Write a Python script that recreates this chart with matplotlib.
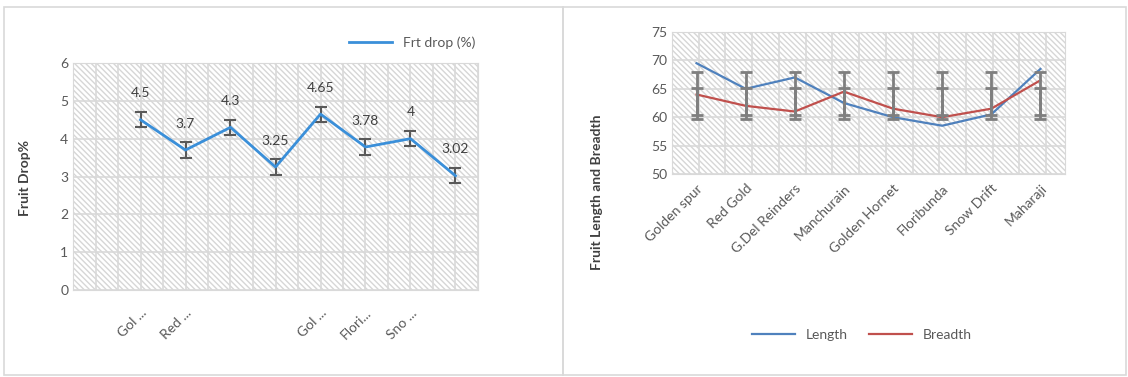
import numpy as np
import matplotlib
matplotlib.use("Agg")
import matplotlib.pyplot as plt
from matplotlib.patches import Rectangle
from matplotlib.lines import Line2D

plt.rcParams["font.family"] = ["Lato", "DejaVu Sans"]
plt.rcParams["hatch.color"] = "#d6d6d6"
plt.rcParams["hatch.linewidth"] = 1.0

# left chart: fruit drop (first category slot is empty in the original)
drop_labels = ["", "Gol ...", "Red ...", "", "", "Gol ...", "Flori...", "Sno ...", ""]
drop_values = [np.nan, 4.5, 3.7, 4.3, 3.25, 4.65, 3.78, 4.0, 3.02]
drop_err = [np.nan, 0.2, 0.2, 0.2, 0.2, 0.2, 0.2, 0.2, 0.2]
drop_text = ["", "4.5", "3.7", "4.3", "3.25", "4.65", "3.78", "4", "3.02"]

# right chart: fruit length and breadth
cultivars = ["Golden spur", "Red Gold", "G.Del Reinders", "Manchurain",
             "Golden Hornet", "Floribunda", "Snow Drift", "Maharaji"]
length = [69.5, 65.0, 67.0, 62.5, 60.0, 58.5, 60.5, 68.5]
breadth = [64.0, 62.0, 61.0, 64.5, 61.5, 60.0, 61.5, 66.5]
bar_a_low = [60.4] * 8
bar_a_high = [68.0] * 8
bar_b_low = [59.7] * 8
bar_b_high = [65.1] * 8

TXT = "#595959"
GRID = "#d9d9d9"

fig = plt.figure(figsize=(11.28, 3.77), dpi=100)

# chart frames
for x0, w in [(4 / 1128, 559 / 1128), (563 / 1128, 563 / 1128)]:
    fig.patches.append(Rectangle((x0, 2 / 377), w, 368 / 377, transform=fig.transFigure,
                                 fill=False, edgecolor=GRID, linewidth=1.2))


def style_axes(ax):
    ax.patch.set_facecolor("white")
    ax.add_patch(Rectangle((0, 0), 1, 1, transform=ax.transAxes, facecolor="none",
                           edgecolor="#d6d6d6", linewidth=0, hatch="\\" * 6, zorder=0))
    for s in ax.spines.values():
        s.set_color(GRID)
    ax.tick_params(length=0, colors=TXT, labelsize=10)
    ax.grid(axis="y", color=GRID, linewidth=1.2, zorder=0.5)
    ax.set_axisbelow(True)


# ---- left
ax1 = fig.add_axes([73 / 1128, 1 - 290 / 377, 405 / 1128, 227 / 377])
style_axes(ax1)
x1 = np.arange(len(drop_labels))
ax1.set_xlim(-0.5, len(drop_labels) - 0.5)
ax1.set_ylim(0, 6)
ax1.set_yticks(range(0, 7))
for xv in np.arange(-0.5, len(drop_labels), 0.5):
    ax1.axvline(xv, color=GRID, linewidth=1.2, zorder=0.5)
ax1.errorbar(x1, drop_values, yerr=drop_err, color="#3a8fd9", linewidth=2,
             ecolor="#595959", elinewidth=1.5, capsize=4.5, capthick=1.5, zorder=3)
for xi, v, t in zip(x1, drop_values, drop_text):
    if t:
        ax1.annotate(t, (xi, v), xytext=(0, 19), textcoords="offset points",
                     ha="center", va="center", fontsize=10, color="#404040")
ax1.set_xticks(x1)
ax1.set_xticklabels(drop_labels, rotation=45, ha="right", rotation_mode="anchor")
ax1.tick_params(axis="x", pad=12)
fig.text(25 / 1128, 1 - 178 / 377, "Fruit Drop%", rotation=90, ha="center", va="center",
         fontsize=10, color="#404040", fontweight="bold")
ax1.legend([Line2D([], [], color="#3a8fd9", linewidth=2)], ["Frt drop (%)"],
           loc="center left", bbox_to_anchor=(336 / 1128, 1 - 43 / 377),
           bbox_transform=fig.transFigure, frameon=False, fontsize=10,
           handlelength=3.1, labelcolor=TXT)

# ---- right
ax2 = fig.add_axes([672 / 1128, 1 - 174 / 377, 393 / 1128, 142 / 377])
style_axes(ax2)
x2 = np.arange(len(cultivars))
ax2.set_xlim(-0.5, len(cultivars) - 0.5)
ax2.set_ylim(50, 75)
ax2.set_yticks(range(50, 80, 5))
for f in np.arange(0.0, 1.0, 0.068):
    ax2.axvline(f * 8 - 0.5, color=GRID, linewidth=1.2, zorder=0.5)
ax2.plot(x2, length, color="#4f81bd", linewidth=1.6, label="Length", zorder=3)
ax2.plot(x2, breadth, color="#c0504d", linewidth=1.6, label="Breadth", zorder=3)
for lo, hi in [(bar_a_low, bar_a_high), (bar_b_low, bar_b_high)]:
    lo = np.array(lo)
    hi = np.array(hi)
    mid = (lo + hi) / 2
    ax2.errorbar(x2, mid, yerr=(hi - lo) / 2, fmt="none", ecolor="#7f7f7f",
                 elinewidth=2, capsize=4.5, capthick=2, zorder=4)
ax2.set_xticks(x2)
ax2.set_xticklabels(cultivars, rotation=45, ha="right", rotation_mode="anchor")
ax2.tick_params(axis="x", pad=6)
fig.text(597 / 1128, 1 - 192 / 377, "Fruit Length and Breadth", rotation=90,
         ha="center", va="center", fontsize=10, color="#404040", fontweight="bold")
ax2.legend(loc="center", bbox_to_anchor=(862 / 1128, 1 - 335 / 377),
           bbox_transform=fig.transFigure, frameon=False, fontsize=10, ncol=2,
           handlelength=3.1, labelcolor=TXT, columnspacing=1.5)

fig.savefig("out.png", dpi=100)
